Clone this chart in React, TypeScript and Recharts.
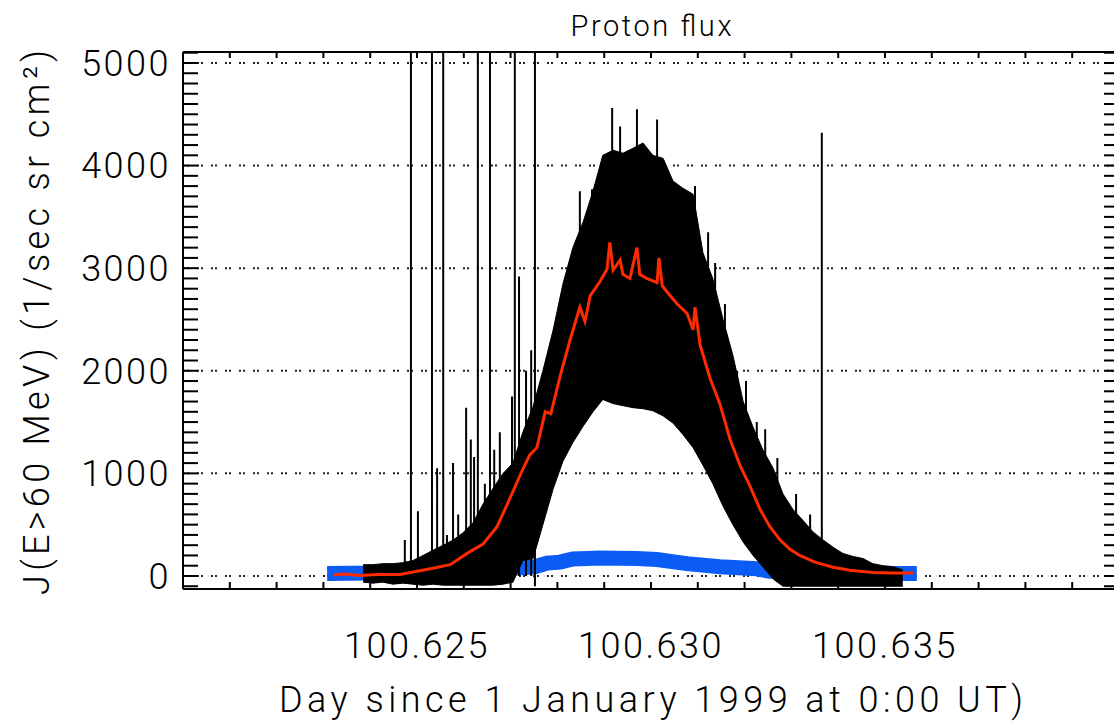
import React from 'react';
import { ComposedChart, Area, Line, XAxis, YAxis, CartesianGrid } from 'recharts';

// black band: lower / upper edge of the raw samples
const envTimes = [
  100.62385, 100.62406, 100.62427, 100.62449, 100.6247, 100.62491, 100.62513, 100.62534, 100.62556, 100.62577,
  100.62598, 100.6262, 100.62641, 100.62662, 100.62684, 100.62705, 100.62726, 100.62748, 100.62769, 100.62791,
  100.62812, 100.62833, 100.62855, 100.62876, 100.62897, 100.62919, 100.6294, 100.62962, 100.62983, 100.63004,
  100.63026, 100.63047, 100.63068, 100.6309, 100.63111, 100.63132, 100.63154, 100.63175, 100.63197, 100.63218,
  100.63239, 100.63261, 100.63282, 100.63303, 100.63325, 100.63346, 100.63368, 100.63389, 100.6341, 100.63432,
  100.63453, 100.63474, 100.63496, 100.63517, 100.63538,
];
const envLow = [
  -60, -70, -60, -80, -70, -80, -90, -80, -90, -90,
  -90, -90, -90, -90, -80, -60, 150, 170, 500, 850,
  1120, 1300, 1460, 1600, 1720, 1680, 1660, 1640, 1630, 1610,
  1560, 1490, 1380, 1250, 1080, 900, 680, 500, 330, 200,
  90, -30, -100, -100, -100, -100, -100, -100, -100, -100,
  -100, -100, -100, -100, -100,
];
const envHigh = [
  110, 110, 120, 120, 130, 150, 200, 250, 300, 350,
  420, 520, 700, 850, 1000, 1100, 1400, 1650, 2000, 2400,
  2850, 3200, 3450, 3750, 4100, 4150, 4120, 4170, 4220, 4100,
  4070, 3850, 3780, 3720, 3150, 2900, 2500, 2150, 1700, 1450,
  1230, 1050, 800, 650, 540, 430, 350, 280, 220, 190,
  170, 120, 100, 90, 60,
];

// single-sample spikes
const spikeTimes = [
  100.62474, 100.62487, 100.62502, 100.62532, 100.62543, 100.62556, 100.62564, 100.62577, 100.62588, 100.62605,
  100.62615, 100.62622, 100.6263, 100.62645, 100.62656, 100.62665, 100.62677, 100.62703, 100.62709, 100.62718,
  100.62733, 100.62744, 100.62752, 100.62848, 100.62874, 100.62917, 100.62934, 100.6297, 100.63013, 100.63094,
  100.63122, 100.63137, 100.63158, 100.63184, 100.63203, 100.63226, 100.63244, 100.6327, 100.63293, 100.6331,
  100.6334, 100.63365,
];
const spikeLow = [
  0, 0, 0, 0, 0, 0, 0, 0, 0, 0,
  0, 0, 0, 0, 0, 0, 0, 0, 0, 0,
  0, 0, -100, 2500, 2500, 3000, 3000, 3000, 3000, 2500,
  2500, 2000, 1500, 1000, 800, 500, 500, 0, 0, 0,
  0, -100,
];
const spikeHigh = [
  350, 5100, 630, 5100, 1050, 5100, 400, 1100, 600, 1640,
  1330, 1160, 5100, 900, 5100, 1230, 1400, 1750, 5100, 2920,
  2000, 2200, 5100, 3750, 3770, 4560, 4380, 4550, 4450, 3800,
  3350, 3050, 2650, 2000, 1900, 1500, 1430, 1150, 710, 800,
  600, 4320,
];

// red: running mean
const redTimes = [
  100.62321, 100.62346, 100.62378, 100.62415, 100.62464, 100.62506, 100.62534, 100.62571, 100.62607, 100.62641,
  100.62671, 100.62699, 100.62726, 100.62741, 100.62756, 100.62774, 100.62786, 100.62806, 100.62827, 100.62848,
  100.62859, 100.6287, 100.62891, 100.62906, 100.62912, 100.62919, 100.62934, 100.6294, 100.62955, 100.6297,
  100.62976, 100.62991, 100.63013, 100.63017, 100.63024, 100.63034, 100.63056, 100.63077, 100.6309, 100.63094,
  100.63105, 100.63126, 100.63147, 100.63169, 100.6319, 100.63212, 100.63233, 100.63254, 100.63276, 100.63297,
  100.63318, 100.6335, 100.63389, 100.63425, 100.63474, 100.63517, 100.6356,
];
const redFlux = [
  10, 20, 5, 15, 15, 50, 75, 110, 220, 310,
  480, 760, 1040, 1180, 1250, 1600, 1580, 1950, 2300, 2620,
  2480, 2730, 2870, 2990, 3250, 2980, 3080, 2940, 2900, 3200,
  2940, 2900, 2860, 3100, 2830, 2770, 2650, 2560, 2400, 2620,
  2250, 1930, 1680, 1330, 1080, 870, 650, 480, 350, 260,
  200, 135, 85, 55, 35, 30, 30,
];

// blue: background level
const blueTimes = [
  100.62308, 100.624, 100.62506, 100.62613, 100.6272, 100.62752, 100.62778, 100.62806, 100.62833, 100.62891,
  100.6297, 100.63013, 100.63045, 100.63077, 100.63147, 100.63226, 100.63254, 100.63318, 100.63425, 100.63517,
  100.63568,
];
const blueFlux = [
  25, 30, 50, 60, 80, 90, 125, 135, 165, 175,
  170, 160, 140, 120, 90, 70, 45, 40, 35, 25,
  25,
];

const xLabelTicks = [100.625, 100.63, 100.635];
const yLabelTicks = [0, 1000, 2000, 3000, 4000, 5000];
const xMinorTicks = Array.from({ length: 21 }, (_, i) => +(100.62 + i * 0.001).toFixed(3));
const yMinorTicks = Array.from({ length: 53 }, (_, i) => -100 + i * 100);

const X_DOMAIN = [100.62, 100.64];
const Y_DOMAIN = [-127, 5107];
const FONT = 'Roboto, "Liberation Sans", Arial, sans-serif';

const envData = envTimes.map((t, i) => ({ t, range: [envLow[i], envHigh[i]] }));
const redData = redTimes.map((t, i) => ({ t, v: redFlux[i] }));
const blueData = blueTimes.map((t, i) => ({ t, v: blueFlux[i] }));
const spikeData = spikeTimes.flatMap((t, i) => [
  { t, v: spikeLow[i] },
  { t, v: spikeHigh[i] },
  { t, v: null },
]);

const tickStyle = { fontSize: 36, fill: '#000', fontFamily: FONT, fontWeight: 300, letterSpacing: 2.5 };
const axisStroke = { stroke: '#000', strokeWidth: 2 };
const noLabel = () => '';

function renderTitle(props: any) {
  const vb = props.viewBox;
  return (
    <text x={vb.x + vb.width / 2} y={52 - 16} textAnchor="middle" fontSize={29} fontFamily={FONT} fontWeight={300}
      textLength={161} lengthAdjust="spacing" fill="#000">
      Proton flux
    </text>
  );
}

function renderXTitle(props: any) {
  const vb = props.viewBox;
  return (
    <text x={vb.x + vb.width / 2} y={vb.y + 123} textAnchor="middle" fontSize={36} fontFamily={FONT} fontWeight={300}
      textLength={744} lengthAdjust="spacing" fill="#000">
      Day since 1 January 1999 at 0:00 UT)
    </text>
  );
}

function renderYTitle(props: any) {
  const vb = props.viewBox;
  const x = vb.x - 34;
  const y = vb.y + vb.height / 2 + 2;
  return (
    <text x={x} y={y} transform={`rotate(-90 ${x} ${y})`} textAnchor="middle" fontSize={36} fontWeight={300}
      fontFamily={FONT} textLength={545} lengthAdjust="spacing" fill="#000">
      J(E&gt;60 MeV) (1/sec sr cm²)
    </text>
  );
}

export default function App() {
  return (
    <div style={{ position: 'absolute', left: 0, top: 0, width: 1114, height: 725, overflow: 'hidden', background: '#fff' }}>
      <ComposedChart width={1125} height={725} margin={{ top: 52, right: 6, bottom: 0, left: 83 }}>
        <CartesianGrid xAxisId="b" yAxisId="l" vertical={false} stroke="#222" strokeWidth={2} strokeDasharray="2 2 2 8" />

        <XAxis xAxisId="b" dataKey="t" type="number" domain={X_DOMAIN} allowDataOverflow ticks={xLabelTicks}
          tickFormatter={(v: number) => v.toFixed(3)} tick={tickStyle} tickLine={false} tickSize={40} tickMargin={3}
          axisLine={axisStroke} height={136} interval={0} label={renderXTitle} />
        <XAxis xAxisId="bm" dataKey="t" type="number" domain={X_DOMAIN} allowDataOverflow ticks={xMinorTicks}
          mirror tickFormatter={noLabel} tickLine={axisStroke} tickSize={7} axisLine={false} height={10} interval={0} />
        <XAxis xAxisId="t" orientation="top" dataKey="t" type="number" domain={X_DOMAIN} allowDataOverflow
          ticks={xMinorTicks} mirror tickFormatter={noLabel} tickLine={axisStroke} tickSize={6} axisLine={axisStroke}
          height={10} interval={0} label={renderTitle} />

        <YAxis yAxisId="l" type="number" domain={Y_DOMAIN} allowDataOverflow ticks={yLabelTicks} tick={tickStyle}
          tickLine={false} tickSize={10} tickMargin={2} axisLine={axisStroke} width={100} interval={0}
          label={renderYTitle} />
        <YAxis yAxisId="lm" type="number" domain={Y_DOMAIN} allowDataOverflow ticks={yMinorTicks} mirror
          tickFormatter={noLabel} tickLine={axisStroke} tickSize={15} axisLine={false} width={10} interval={0} />
        <YAxis yAxisId="r" orientation="right" type="number" domain={Y_DOMAIN} allowDataOverflow ticks={yMinorTicks}
          mirror tickFormatter={noLabel} tickLine={axisStroke} tickSize={15} axisLine={axisStroke} width={10} interval={0} />

        <Area xAxisId="b" yAxisId="l" data={blueData} dataKey="v" type="linear" stroke="#0a5cf5" strokeWidth={15}
          fill="none" dot={false} activeDot={false} isAnimationActive={false} />
        <Area xAxisId="b" yAxisId="l" data={envData} dataKey="range" type="linear" stroke="#000" strokeWidth={1}
          fill="#000" fillOpacity={1} dot={false} activeDot={false} isAnimationActive={false} />
        <Line xAxisId="b" yAxisId="l" data={spikeData} dataKey="v" type="linear" stroke="#000" strokeWidth={2}
          dot={false} activeDot={false} connectNulls={false} isAnimationActive={false} />
        <Line xAxisId="b" yAxisId="l" data={redData} dataKey="v" type="linear" stroke="#ff2a00" strokeWidth={3}
          dot={false} activeDot={false} isAnimationActive={false} />
      </ComposedChart>
    </div>
  );
}
